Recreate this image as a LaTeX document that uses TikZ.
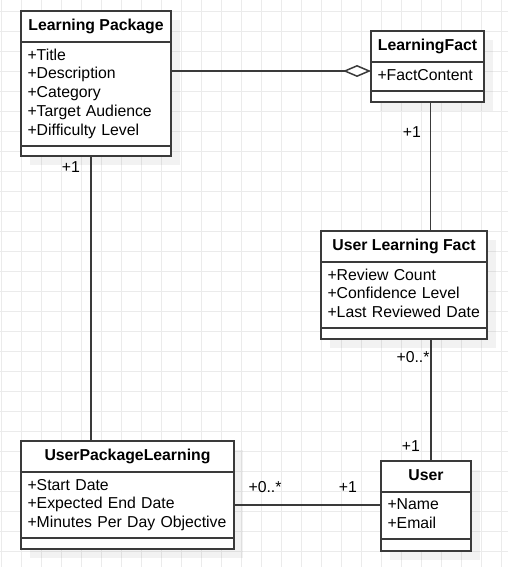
\documentclass[tikz,border=0pt]{standalone}
\usepackage{fontspec}
\setmainfont{Liberation Sans}
\usetikzlibrary{arrows.meta,positioning,shadows}
\definecolor{umlLine}{HTML}{3a3a3a}
\definecolor{umlGrid}{HTML}{ebebeb}
\tikzset{
  gridline/.style={draw=umlGrid, line width=0.8pt},
  part/.style={draw=umlLine, fill=white, line width=1.5pt, outer sep=0pt,
              drop shadow={shadow xshift=9pt, shadow yshift=-9pt, fill=black, opacity=0.05}},
  head/.style={part, anchor=north west, minimum height=31pt,
              font=\fontsize{15.8}{18.75}\selectfont\bfseries,
              text height=11.5pt, text depth=3.3pt},
  attrs/.style={part, align=left, inner xsep=6.5pt, inner ysep=2pt,
              font=\fontsize{15.8}{18.75}\selectfont,
              execute at begin node=\strut, execute at end node=\strut},
  ops/.style={part, inner sep=0pt},
  assoc/.style={draw=umlLine, line width=1.5pt},
  aggr/.style={assoc, {Diamond[length=28pt, width=12pt, fill=white]}-},
  mult/.style={font=\fontsize{15.8}{18.75}\selectfont, inner sep=0pt},
}

\begin{document}
\begin{tikzpicture}[x=1pt,y=-1pt]
        \useasboundingbox (0,0) rectangle (508,567);
        % background grid
        \foreach \gx in {1,21,...,501}
          \draw[gridline] (\gx,0) -- (\gx,567);
        \foreach \gy in {11,31,...,551}
          \draw[gridline] (0,\gy) -- (508,\gy);

        % classes
        \node[head, minimum width=150pt] (lp) at (21,11) {Learning Package};
        \node[attrs, text width=137pt, minimum height=104pt, below=0pt of lp] (lp-attr)
              {+Title\\+Description\\+Category\\+Target Audience\\+Difficulty Level};
        \node[ops, minimum width=150pt, minimum height=10pt, below=0pt of lp-attr] (lp-ops) {};

        \node[head, minimum width=113pt] (lf) at (371,31) {LearningFact};
        \node[attrs, text width=100pt, minimum height=29pt, below=0pt of lf] (lf-attr) {+FactContent};
        \node[ops, minimum width=113pt, minimum height=11pt, below=0pt of lf-attr] (lf-ops) {};

        \node[head, minimum width=166pt] (ulf) at (321,231) {User Learning Fact};
        \node[attrs, text width=153pt, minimum height=66pt, below=0pt of ulf] (ulf-attr)
              {+Review Count\\+Confidence Level\\+Last Reviewed Date};
        \node[ops, minimum width=166pt, minimum height=11pt, below=0pt of ulf-attr] (ulf-ops) {};

        \node[head, minimum width=213pt] (upl) at (21,441) {UserPackageLearning};
        \node[attrs, text width=200pt, minimum height=66pt, below=0pt of upl] (upl-attr)
              {+Start Date\\+Expected End Date\\+Minutes Per Day Objective};
        \node[ops, minimum width=213pt, minimum height=11pt, below=0pt of upl-attr] (upl-ops) {};

        \node[head, minimum width=90pt] (user) at (381,461) {User};
        \node[attrs, text width=77pt, minimum height=47pt, below=0pt of user] (user-attr)
              {+Name\\+Email};
        \node[ops, minimum width=90pt, minimum height=12pt, below=0pt of user-attr] (user-ops) {};

        % associations
        \draw[aggr] ([yshift=5.5pt]lf-attr.west) -- ([yshift=5.5pt]lf-attr.west -| lp-attr.east);
        \draw[assoc] ([xshift=3.2pt]lf-ops.south) -- ([xshift=3.2pt]lf-ops.south |- ulf.north);
        \draw[assoc] ([xshift=5pt]user.north) -- ([xshift=5pt]user.north |- ulf-ops.south);
        \draw[assoc] ([xshift=-5pt]lp-ops.south) -- ([xshift=-5pt]lp-ops.south |- upl.north);
        \draw[assoc] (upl-attr.east) -- (upl-attr.east -| user-attr.west);

        % multiplicities
        \node[mult] (m-lp) at (71,167.5) {+1};
        \node[mult] (m-lf) at (412,132.5) {+1};
        \node[mult] (m-ulf) at (413,357.5) {+0..*};
        \node[mult] (m-user) at (411,446) {+1};
        \node[mult] (m-upl) at (265,487.5) {+0..*};
        \node[mult] (m-usr) at (348,487.5) {+1};
      \end{tikzpicture}
\end{document}
